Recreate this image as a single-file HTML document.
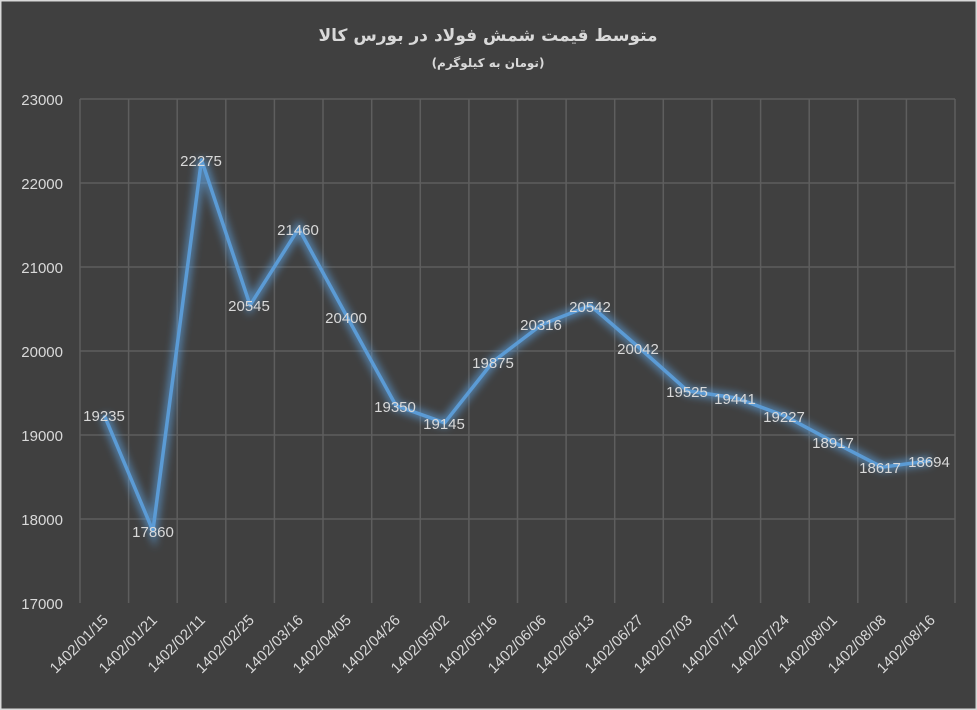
<!DOCTYPE html>
<html><head><meta charset="utf-8"><style>
html,body{margin:0;padding:0;background:#404040}
svg{display:block}
text{font-family:"Liberation Sans","DejaVu Sans",sans-serif}
</style></head><body>
<svg width="977" height="710" viewBox="0 0 977 710" xmlns="http://www.w3.org/2000/svg">
<defs><filter id="g" x="-10%" y="-10%" width="120%" height="120%"><feGaussianBlur stdDeviation="4"/></filter></defs>
<rect x="0" y="0" width="977" height="710" fill="#404040"/>
<rect x="0.5" y="0.5" width="976" height="709" fill="none" stroke="#d9d9d9" stroke-width="2"/>
<g stroke="#5e5e5e" stroke-width="1.5" fill="none">
<path d="M80 99H955M80 183H955M80 267H955M80 351H955M80 435H955M80 519H955"/>
<path d="M80 99V603M128.6 99V603M177.2 99V603M225.8 99V603M274.4 99V603M323 99V603M371.7 99V603M420.3 99V603M468.9 99V603M517.5 99V603M566.1 99V603M614.7 99V603M663.3 99V603M711.9 99V603M760.6 99V603M809.2 99V603M857.8 99V603M906.4 99V603M955 99V603"/>
</g>
<text x="488" y="41" text-anchor="middle" font-weight="bold" font-size="17" fill="#d9d9d9" style="font-family:'DejaVu Sans',sans-serif">متوسط قیمت شمش فولاد در بورس کالا</text>
<text x="488" y="67" text-anchor="middle" font-weight="bold" font-size="12" fill="#d9d9d9" style="font-family:'DejaVu Sans',sans-serif">(تومان به کیلوگرم)</text>
<g font-size="15" fill="#d9d9d9" text-anchor="end">
<text x="63" y="105">23000</text><text x="63" y="189">22000</text><text x="63" y="273">21000</text>
<text x="63" y="357">20000</text><text x="63" y="441">19000</text><text x="63" y="525">18000</text><text x="63" y="609">17000</text>
</g>
<g>
<polyline filter="url(#g)" fill="none" stroke="#5b9bd5" stroke-opacity="0.7" stroke-width="9" points="104.3,415.3 152.9,530.8 201.5,159.9 250.1,305.2 298.7,228.4 347.4,317.4 396,405.6 444.6,422.8 493.2,361.5 541.8,324.5 590.4,305.5 639,347.5 687.6,390.9 736.3,398 784.9,415.9 833.5,442 882.1,467.2 930.7,460.7"/>
<polyline fill="none" stroke="#5b9bd5" stroke-width="3.5" stroke-linejoin="round" points="104.3,415.3 152.9,530.8 201.5,159.9 250.1,305.2 298.7,228.4 347.4,317.4 396,405.6 444.6,422.8 493.2,361.5 541.8,324.5 590.4,305.5 639,347.5 687.6,390.9 736.3,398 784.9,415.9 833.5,442 882.1,467.2 930.7,460.7"/>
</g>
<g font-size="15" fill="#d9d9d9" text-anchor="middle">
<text x="104" y="421">19235</text><text x="153" y="537">17860</text><text x="201" y="166">22275</text>
<text x="249" y="311">20545</text><text x="298" y="235">21460</text><text x="346" y="323">20400</text>
<text x="395" y="412">19350</text><text x="444" y="429">19145</text><text x="493" y="368">19875</text>
<text x="541" y="330">20316</text><text x="590" y="312">20542</text><text x="638" y="354">20042</text>
<text x="687" y="397">19525</text><text x="735" y="404">19441</text><text x="784" y="422">19227</text>
<text x="833" y="448">18917</text><text x="880" y="473">18617</text><text x="929" y="467">18694</text>
</g>
<g font-size="15" fill="#d9d9d9" text-anchor="end">
<text transform="translate(109,621) rotate(-45)">1402/01/15</text>
<text transform="translate(158,621) rotate(-45)">1402/01/21</text>
<text transform="translate(206,621) rotate(-45)">1402/02/11</text>
<text transform="translate(255,621) rotate(-45)">1402/02/25</text>
<text transform="translate(304,621) rotate(-45)">1402/03/16</text>
<text transform="translate(352,621) rotate(-45)">1402/04/05</text>
<text transform="translate(401,621) rotate(-45)">1402/04/26</text>
<text transform="translate(450,621) rotate(-45)">1402/05/02</text>
<text transform="translate(498,621) rotate(-45)">1402/05/16</text>
<text transform="translate(547,621) rotate(-45)">1402/06/06</text>
<text transform="translate(595,621) rotate(-45)">1402/06/13</text>
<text transform="translate(644,621) rotate(-45)">1402/06/27</text>
<text transform="translate(693,621) rotate(-45)">1402/07/03</text>
<text transform="translate(741,621) rotate(-45)">1402/07/17</text>
<text transform="translate(790,621) rotate(-45)">1402/07/24</text>
<text transform="translate(838,621) rotate(-45)">1402/08/01</text>
<text transform="translate(887,621) rotate(-45)">1402/08/08</text>
<text transform="translate(936,621) rotate(-45)">1402/08/16</text>
</g>
</svg>
</body></html>
